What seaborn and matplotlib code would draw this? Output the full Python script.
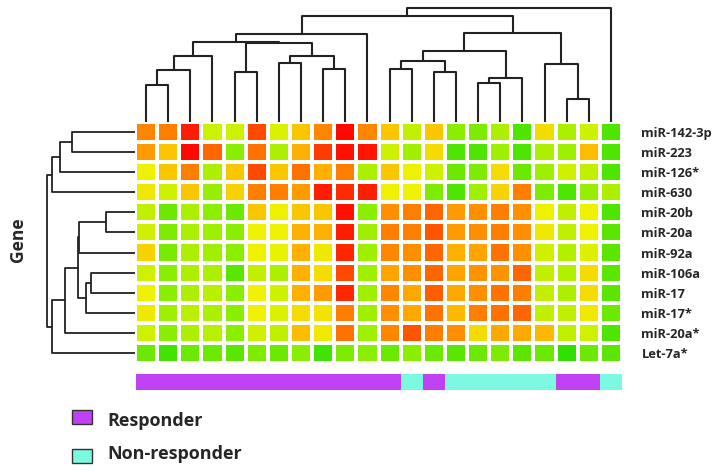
import matplotlib
matplotlib.use("Agg")
import matplotlib.pyplot as plt
from matplotlib.colors import LinearSegmentedColormap, ListedColormap
from matplotlib.patches import Rectangle
import numpy as np
import pandas as pd
import seaborn as sns


GENES = ["miR-142-3p", "miR-223", "miR-126*", "miR-630", "miR-20b", "miR-20a",
         "miR-92a", "miR-106a", "miR-17", "miR-17*", "miR-20a*", "Let-7a*"]
SAMPLES = [f"P{i + 1}" for i in range(22)]

# relative expression (green low -> red high)
EXPRESSION = [
    [0.70, 0.72, 0.95, 0.40, 0.40, 0.85, 0.42, 0.55, 0.70, 1.00, 0.70, 0.55, 0.38, 0.55, 0.30, 0.28, 0.35, 0.20, 0.50, 0.35, 0.40, 0.20],
    [0.65, 0.55, 1.00, 0.78, 0.30, 0.75, 0.35, 0.60, 0.88, 0.98, 0.97, 0.40, 0.33, 0.50, 0.20, 0.20, 0.33, 0.20, 0.35, 0.33, 0.57, 0.20],
    [0.45, 0.55, 0.72, 0.35, 0.55, 0.85, 0.55, 0.75, 0.60, 0.72, 0.35, 0.55, 0.45, 0.40, 0.25, 0.28, 0.50, 0.25, 0.33, 0.40, 0.38, 0.20],
    [0.47, 0.40, 0.55, 0.32, 0.52, 0.72, 0.72, 0.65, 0.95, 0.92, 0.95, 0.45, 0.45, 0.28, 0.20, 0.33, 0.52, 0.72, 0.28, 0.20, 0.32, 0.35],
    [0.38, 0.25, 0.35, 0.30, 0.25, 0.55, 0.45, 0.55, 0.55, 0.98, 0.30, 0.68, 0.72, 0.78, 0.65, 0.68, 0.72, 0.68, 0.45, 0.38, 0.45, 0.20],
    [0.40, 0.28, 0.35, 0.33, 0.30, 0.45, 0.45, 0.60, 0.60, 0.95, 0.33, 0.72, 0.72, 0.82, 0.65, 0.68, 0.72, 0.68, 0.47, 0.38, 0.45, 0.22],
    [0.52, 0.27, 0.35, 0.33, 0.30, 0.45, 0.44, 0.60, 0.47, 0.93, 0.33, 0.70, 0.68, 0.78, 0.60, 0.63, 0.75, 0.68, 0.40, 0.36, 0.42, 0.22],
    [0.40, 0.30, 0.35, 0.35, 0.22, 0.38, 0.35, 0.60, 0.50, 0.85, 0.33, 0.63, 0.68, 0.78, 0.63, 0.67, 0.67, 0.78, 0.38, 0.36, 0.50, 0.22],
    [0.45, 0.30, 0.35, 0.37, 0.30, 0.45, 0.40, 0.60, 0.65, 0.93, 0.33, 0.70, 0.62, 0.80, 0.62, 0.68, 0.75, 0.72, 0.38, 0.35, 0.50, 0.22],
    [0.47, 0.33, 0.37, 0.35, 0.30, 0.45, 0.42, 0.50, 0.48, 0.72, 0.33, 0.68, 0.62, 0.75, 0.58, 0.72, 0.75, 0.78, 0.38, 0.38, 0.47, 0.25],
    [0.40, 0.30, 0.35, 0.37, 0.30, 0.40, 0.38, 0.57, 0.47, 0.75, 0.33, 0.70, 0.82, 0.72, 0.68, 0.50, 0.62, 0.62, 0.58, 0.38, 0.40, 0.20],
    [0.25, 0.18, 0.25, 0.25, 0.22, 0.28, 0.25, 0.30, 0.18, 0.28, 0.30, 0.25, 0.30, 0.25, 0.22, 0.25, 0.28, 0.22, 0.25, 0.15, 0.25, 0.22],
]

GROUP_NAMES = ["Responder", "Non-responder"]
GROUP_COLORS = ["#c040f4", "#7cf9e0"]
GROUPS = ["Responder"] * 12 + ["Non-responder", "Responder"] + ["Non-responder"] * 5 \
    + ["Responder", "Responder", "Non-responder"]

# merges as (left, right, height); new node ids continue after the leaves
COL_MERGES = [
    (0, 1, 37), (22, 2, 52), (23, 3, 65.7), (4, 5, 49.7), (6, 7, 59), (8, 9, 52.7),
    (26, 27, 65.7), (25, 28, 78.7), (24, 29, 80.3), (30, 10, 88), (11, 12, 52.7),
    (13, 14, 49.7), (32, 33, 61.3), (15, 16, 39.3), (35, 17, 43.7), (34, 36, 70.7),
    (19, 20, 23), (18, 38, 58), (37, 39, 88.7), (31, 40, 106.3), (41, 21, 113.7),
]
ROW_MERGES = [
    (0, 1, 63), (12, 2, 75), (13, 3, 83.3), (4, 5, 29), (15, 6, 56), (7, 8, 44),
    (17, 9, 49), (16, 18, 57), (19, 10, 70), (20, 11, 83.3), (14, 21, 88),
]

W, H = 720, 472


def box(x0, y0, x1, y1):
    return [x0 / W, 1 - y1 / H, (x1 - x0) / W, (y1 - y0) / H]


def dendro_segments(merges, n):
    pos = {i: i + 0.5 for i in range(n)}
    hgt = {i: 0.0 for i in range(n)}
    segs = []
    for k, (a, b, h) in enumerate(merges):
        xa, xb = pos[a], pos[b]
        segs.append(([xa, xa, xb, xb], [hgt[a], h, h, hgt[b]]))
        pos[n + k] = (xa + xb) / 2
        hgt[n + k] = h
    return segs


def main():
    sns.set_theme(style="white")
    plt.rcParams["font.family"] = ["Open Sans", "DejaVu Sans"]

    fig = plt.figure(figsize=(7.2, 4.72), dpi=100)

    cmap = LinearSegmentedColormap.from_list("gyr", [
        (0.0, "#30e000"), (0.18, "#8cee00"), (0.35, "#eef200"),
        (0.53, "#ffb000"), (0.7, "#ff7400"), (1.0, "#ff0800")])

    df = pd.DataFrame(EXPRESSION, index=GENES, columns=SAMPLES)
    ax = fig.add_axes(box(135, 122, 622, 363))
    sns.heatmap(df, ax=ax, cmap=cmap, vmin=0.15, vmax=1.0, linewidths=1.5,
                linecolor="white", cbar=False, xticklabels=False)
    ax.yaxis.tick_right()
    ax.tick_params(axis="y", length=0, pad=14)
    for lab in ax.get_yticklabels():
        lab.set_rotation(0)
        lab.set_fontweight("bold")
        lab.set_fontsize(9.3)
    ax.set_xlabel("")
    ax.set_ylabel("")

    # column dendrogram
    axt = fig.add_axes(box(135, 5, 622, 122))
    for xs, ys in dendro_segments(COL_MERGES, len(SAMPLES)):
        axt.plot(xs, ys, color="#222222", lw=1.5)
    axt.set_xlim(0, len(SAMPLES))
    axt.set_ylim(0, 117)
    axt.axis("off")

    # row dendrogram
    axl = fig.add_axes(box(40, 122, 135, 363))
    for xs, ys in dendro_segments(ROW_MERGES, len(GENES)):
        axl.plot(ys, xs, color="#222222", lw=1.3)
    axl.set_ylim(len(GENES), 0)
    axl.set_xlim(95, 0)
    axl.axis("off")

    fig.text(18 / W, 1 - 240 / H, "Gene", rotation=90, ha="center", va="center",
             fontsize=12.5, fontweight="bold")

    # group annotation bar
    axg = fig.add_axes(box(136, 374, 622, 390))
    codes = np.array([[GROUP_NAMES.index(g) for g in GROUPS]])
    sns.heatmap(codes, ax=axg, cmap=ListedColormap(GROUP_COLORS), vmin=0, vmax=1,
                cbar=False, xticklabels=False, yticklabels=False)

    # legend
    for i, (name, col) in enumerate(zip(GROUP_NAMES, GROUP_COLORS)):
        top = 410 + i * 39
        fig.add_artist(Rectangle((72 / W, 1 - (top + 14) / H), 20 / W, 14 / H,
                                 transform=fig.transFigure, facecolor=col,
                                 edgecolor="#333333", lw=1))
        fig.text(107 / W, 1 - (top + 11 - i * 6) / H, name, va="center", ha="left",
                 fontsize=13, fontweight="bold")

    fig.savefig("out.png", dpi=100)


if __name__ == "__main__":
    main()
